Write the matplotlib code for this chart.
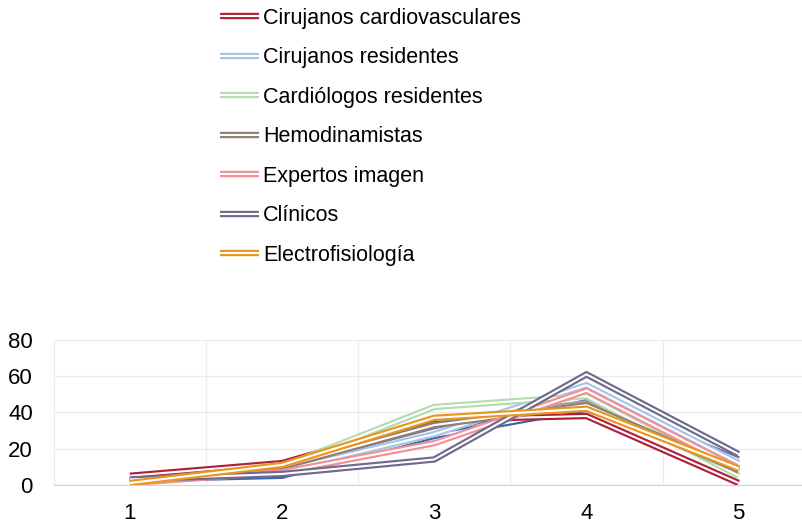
import matplotlib
matplotlib.use("Agg")
import matplotlib.pyplot as plt
from matplotlib.legend_handler import HandlerTuple

plt.rcParams['font.family'] = ['Liberation Sans', 'DejaVu Sans']

categorias = [1, 2, 3, 4, 5]

nombres = ["Cirujanos cardiovasculares", "Cirujanos residentes", "Cardiólogos residentes",
           "Hemodinamistas", "Expertos imagen", "Clínicos", "Electrofisiología"]
colores = ["#b0203a", "#a8c4e4", "#b4dcb0", "#8c7f74", "#f0909a", "#6f6a8c", "#e8961e"]

cirujanos_cv = [5, 12, 36, 38, 1]
cirujanos_res = [2, 8, 28, 55, 12]
cardiologos_res = [1, 10, 43, 49, 5]
hemodinamistas = [2, 10, 33, 44, 8]
expertos_imagen = [1, 7, 23, 52, 9]
clinicos = [3, 6, 14, 61, 17]
electrofisiologia = [1, 11, 37, 42, 9]

# series sin leyenda que aparecen en el grafico
extra_valores = [[3, 5, 27, 42, 12], [2, 8, 30, 48, 14], [2, 11, 35, 45, 7]]
extra_colores = ["#3a64a8", "#7a6c9a", "#a0a0a0"]

series = [cirujanos_cv, cirujanos_res, cardiologos_res, hemodinamistas,
          expertos_imagen, clinicos, electrofisiologia]

fig = plt.figure(figsize=(8.03, 5.23), dpi=100)
ax = fig.add_axes([0.067, 0.073, 0.94, 0.277])


def doble(x, y, color, z):
    a, = ax.plot(x, y, color=color, lw=4.6, zorder=z,
                 solid_joinstyle="miter", solid_capstyle="butt")
    b, = ax.plot(x, y, color="white", lw=1.5, zorder=z + 0.5,
                 solid_joinstyle="miter", solid_capstyle="butt")
    return (a, b)


z = 3
for vals, col in zip(extra_valores, extra_colores):
    doble(categorias, vals, col, z)
    z += 1

handles = []
for vals, col in zip(series, colores):
    handles.append(doble(categorias, vals, col, z))
    z += 1

ax.set_xlim(0.5, 5.46)
ax.set_ylim(0, 80)
ax.set_yticks([0, 20, 40, 60, 80])
ax.set_xticks(categorias)
ax.set_xticks([1.5, 2.5, 3.5, 4.5], minor=True)
ax.tick_params(axis="both", which="both", length=0, labelsize=16)
ax.tick_params(axis="x", pad=13)
ax.tick_params(axis="y", pad=15)
ax.grid(axis="y", color="#ebebeb", lw=1)
ax.grid(axis="x", which="minor", color="#ebebeb", lw=1)
for s in ["top", "right"]:
    ax.spines[s].set_visible(False)
ax.spines["left"].set_color("#ebebeb")
ax.spines["bottom"].set_color("#d4d4d4")
ax.set_axisbelow(True)

fig.legend(handles, nombres, handler_map={tuple: HandlerTuple(ndivide=1)},
           loc="upper left", bbox_to_anchor=(0.274, 0.985), frameon=False,
           fontsize=15.5, labelspacing=0.86, handlelength=1.8, handletextpad=0.2,
           borderpad=0, borderaxespad=0)

fig.savefig("out.png", dpi=100)
